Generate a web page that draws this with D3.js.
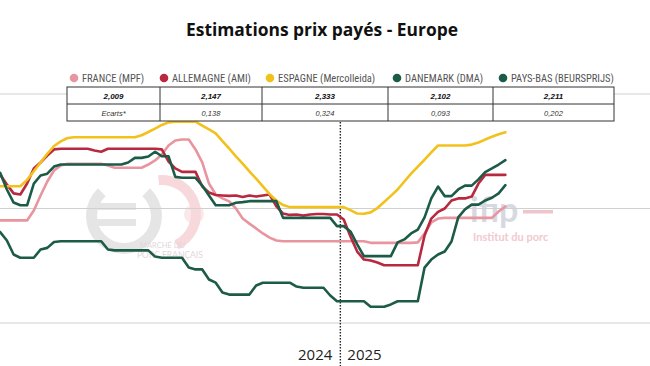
<!DOCTYPE html>
<html>
<head>
<meta charset="utf-8">
<script src="https://cdn.jsdelivr.net/npm/d3@7"></script>
<style>
  html, body { margin: 0; padding: 0; background: #fff; }
  svg { display: block; }
</style>
</head>
<body>
<svg id="chart" width="650" height="366"></svg>
<script>
// ---------------- DATA ----------------
const title = "Estimations prix payés - Europe";
const seriesNames = ["FRANCE (MPF)", "ALLEMAGNE (AMI)", "ESPAGNE (Mercolleida)", "DANEMARK (DMA)", "PAYS-BAS (BEURSPRIJS)"];
const years = ["2024", "2025"];
const weeksPerYear = [52, 25];
const yTicks = [1.5, 2.0, 2.5];

const france = [1.948,1.948,1.948,1.948,1.948,1.948,1.991,2.057,2.118,2.166,
  2.188,2.195,2.195,2.195,2.195,2.195,2.195,2.188,2.178,2.178,
  2.178,2.178,2.178,2.192,2.210,2.236,2.275,2.297,2.301,2.301,
  2.258,2.201,2.109,2.061,2.044,2.031,2.000,1.956,1.934,1.913,
  1.891,1.873,1.860,1.857,1.857,1.857,1.857,1.857,1.857,1.857,
  1.857,1.857,1.857,1.857,1.857,1.857,1.850,1.850,1.850,1.850,
  1.850,1.850,1.850,1.852,1.891,1.939,1.956,1.959,1.959,1.959,
  1.959,1.959,1.959,1.959,1.959,1.987,2.009];

const allemagne = [2.162,2.148,2.105,2.066,2.061,2.109,2.175,2.201,2.231,2.258,
  2.261,2.261,2.261,2.261,2.261,2.253,2.248,2.261,2.261,2.261,
  2.261,2.261,2.261,2.261,2.261,2.258,2.205,2.175,2.160,2.160,
  2.160,2.096,2.070,2.059,2.057,2.055,2.057,2.050,2.057,2.052,
  2.057,2.061,2.009,1.978,1.972,1.974,1.969,1.974,1.976,1.976,
  1.974,1.974,1.952,1.878,1.812,1.777,1.773,1.764,1.752,1.752,
  1.752,1.752,1.752,1.752,1.882,1.956,1.985,2.000,2.035,2.044,
  2.044,2.052,2.109,2.147,2.147,2.147,2.147];

const espagne = [2.097,2.097,2.097,2.097,2.097,2.125,2.163,2.201,2.239,2.273,
  2.293,2.308,2.311,2.311,2.311,2.311,2.311,2.311,2.311,2.311,
  2.311,2.311,2.320,2.334,2.349,2.365,2.376,2.379,2.379,2.379,
  2.379,2.362,2.345,2.328,2.294,2.262,2.228,2.196,2.162,2.130,
  2.097,2.063,2.035,2.015,2.006,2.006,2.006,2.006,2.006,2.006,
  2.006,2.006,2.006,1.993,1.978,1.977,1.983,2.002,2.028,2.055,
  2.083,2.118,2.152,2.183,2.213,2.245,2.275,2.275,2.275,2.275,
  2.275,2.279,2.288,2.301,2.313,2.324,2.333];

const danemark = [1.917,1.897,1.860,1.799,1.785,1.785,1.785,1.821,1.828,1.854,
  1.857,1.857,1.857,1.857,1.857,1.857,1.857,1.821,1.817,1.817,
  1.817,1.817,1.817,1.817,1.790,1.785,1.785,1.785,1.785,1.742,
  1.734,1.734,1.690,1.676,1.633,1.624,1.624,1.624,1.624,1.664,
  1.676,1.676,1.676,1.676,1.676,1.659,1.654,1.654,1.654,1.654,
  1.620,1.595,1.595,1.595,1.595,1.595,1.571,1.571,1.571,1.581,
  1.595,1.595,1.595,1.595,1.742,1.777,1.799,1.812,1.856,1.961,
  1.996,2.017,2.017,2.035,2.047,2.066,2.102];

const paysBas = [2.156,2.156,2.083,2.026,2.014,2.014,2.109,2.144,2.152,2.183,
  2.192,2.192,2.192,2.192,2.192,2.192,2.192,2.192,2.192,2.192,
  2.201,2.221,2.221,2.227,2.248,2.228,2.228,2.138,2.134,2.134,
  2.134,2.100,2.057,2.014,2.014,2.014,2.025,2.028,2.032,2.032,
  2.032,2.032,2.032,1.959,1.959,1.959,1.959,1.959,1.959,1.959,
  1.959,1.923,1.923,1.900,1.843,1.792,1.792,1.792,1.792,1.792,
  1.852,1.865,1.891,1.908,1.961,2.044,2.096,2.054,2.054,2.083,
  2.100,2.100,2.127,2.159,2.175,2.192,2.211];

const latestValues = ["2,009", "2,147", "2,333", "2,102", "2,211"];
const ecartsRow = ["Ecarts*", "0,138", "0,324", "0,093", "0,202"];

// ---------------- STYLE ----------------
const colors = ["#e8959f", "#b8293f", "#f3c11b", "#1c5b47", "#1c5b47"];
const allSeries = [france, allemagne, espagne, danemark, paysBas];

// build week categories
const weeks = [];
years.forEach((y, yi) => { for (let w = 1; w <= weeksPerYear[yi]; w++) weeks.push(y + "-S" + w); });

const svg = d3.select("#chart");
const W = 650, H = 366;

// scales
const x = d3.scalePoint().domain(weeks).range([-6.6, 505.4]);
const y = d3.scaleLinear().domain([1.5, 2.5]).range([323, 94]);

// ---------- watermarks ----------
const wm = svg.append("g");
// euro sign drawn as shapes
wm.append("path")
  .attr("transform", "translate(124,216)")
  .attr("d", d3.arc().innerRadius(27).outerRadius(38).startAngle(0.75).endAngle(2 * Math.PI - 0.75)())
  .attr("fill", "#e5e5e5");
wm.append("rect").attr("x", 96).attr("y", 203).attr("width", 40).attr("height", 7).attr("fill", "#e5e5e5");
wm.append("rect").attr("x", 96).attr("y", 219).attr("width", 40).attr("height", 7).attr("fill", "#e5e5e5");
// pink arc
wm.append("path")
  .attr("transform", "translate(162,214)")
  .attr("d", d3.arc().innerRadius(29).outerRadius(39).startAngle(-0.1).endAngle(2.7)())
  .attr("fill", "#f7d9dc");
wm.append("path")
  .attr("transform", "translate(194,214)")
  .attr("d", d3.arc().innerRadius(0).outerRadius(10).startAngle(0).endAngle(2 * Math.PI)())
  .attr("fill", "#f7d9dc").attr("opacity", 0.6);
wm.append("text").attr("x", 140).attr("y", 248).attr("font-family", "Lato, sans-serif")
  .attr("font-size", 7.5).attr("fill", "#e3d6da").text("MARCHÉ DU");
wm.append("text").attr("x", 137).attr("y", 258).attr("font-family", "Lato, sans-serif")
  .attr("font-size", 8.5).attr("fill", "#e3d6da").text("PORC FRANÇAIS");
wm.append("text").attr("x", 470).attr("y", 222).attr("font-family", "Lato, sans-serif").attr("font-weight", "bold")
  .attr("font-size", 34).attr("fill", "#d6d9e2").text("ifip");
wm.append("rect").attr("x", 523).attr("y", 210).attr("width", 30).attr("height", 3.5).attr("fill", "#f0c4cb");
wm.append("text").attr("x", 473).attr("y", 241).attr("font-family", "Lato, sans-serif").attr("font-weight", "bold")
  .attr("font-size", 11).attr("fill", "#f2c9cf").text("Institut du porc");

// ---------- gridlines ----------
svg.append("g").selectAll("line").data(yTicks).join("line")
  .attr("x1", 0).attr("x2", W)
  .attr("y1", d => y(d)).attr("y2", d => y(d))
  .attr("stroke", "#d0d0d0").attr("stroke-width", 1);

// ---------- year separator ----------
const lastW2024 = weeks[weeksPerYear[0] - 1], firstW2025 = weeks[weeksPerYear[0]];
const sepX = (x(lastW2024) + x(firstW2025)) / 2;
svg.append("line").attr("x1", sepX).attr("x2", sepX).attr("y1", 122).attr("y2", H)
  .attr("stroke", "#222").attr("stroke-width", 1.4).attr("stroke-dasharray", "1.5,1.5");

svg.append("text").attr("x", sepX - 8).attr("y", 360).attr("text-anchor", "end")
  .attr("font-family", "Open Sans, sans-serif").attr("font-size", 15).attr("fill", "#222").text(years[0]);
svg.append("text").attr("x", sepX + 7).attr("y", 360).attr("text-anchor", "start")
  .attr("font-family", "Open Sans, sans-serif").attr("font-size", 15).attr("fill", "#222").text(years[1]);

// ---------- lines ----------
const line = d3.line().x((d, i) => x(weeks[i])).y(d => y(d)).curve(d3.curveLinear);
svg.append("g").selectAll("path").data(allSeries).join("path")
  .attr("d", d => line(d))
  .attr("fill", "none")
  .attr("stroke", (d, i) => colors[i])
  .attr("stroke-width", 2.6)
  .attr("stroke-linejoin", "round")
  .attr("stroke-linecap", "round");

// ---------- title ----------
svg.append("text").attr("x", 322).attr("y", 36).attr("text-anchor", "middle")
  .attr("font-family", "Open Sans, sans-serif").attr("font-weight", "bold")
  .attr("font-size", 17.4).attr("fill", "#111").text(title);

// ---------- legend ----------
const legendX = [74, 164, 270, 397, 503];
const lg = svg.append("g").selectAll("g").data(seriesNames).join("g")
  .attr("transform", (d, i) => `translate(${legendX[i]},78)`);
lg.append("circle").attr("r", 4.3).attr("fill", (d, i) => colors[i]);
lg.append("text").attr("x", 8).attr("y", 3.6)
  .attr("font-family", "Liberation Sans Narrow, Roboto Condensed, Liberation Sans, sans-serif")
  .attr("font-size", 10.5).attr("fill", "#555").text(d => d);

// ---------- table ----------
const colEdges = [67, 160, 262, 388, 493, 614];
const rowEdges = [87, 104, 121];
const tbl = svg.append("g");
tbl.append("rect").attr("x", colEdges[0]).attr("y", rowEdges[0])
  .attr("width", colEdges[5] - colEdges[0]).attr("height", rowEdges[2] - rowEdges[0])
  .attr("fill", "#fff").attr("stroke", "#333").attr("stroke-width", 1);
tbl.append("line").attr("x1", colEdges[0]).attr("x2", colEdges[5]).attr("y1", rowEdges[1]).attr("y2", rowEdges[1])
  .attr("stroke", "#333");
tbl.selectAll(".vl").data(colEdges.slice(1, 5)).join("line").attr("class", "vl")
  .attr("x1", d => d).attr("x2", d => d).attr("y1", rowEdges[0]).attr("y2", rowEdges[2]).attr("stroke", "#333");
tbl.selectAll(".v1").data(latestValues).join("text").attr("class", "v1")
  .attr("x", (d, i) => (colEdges[i] + colEdges[i + 1]) / 2).attr("y", 98.5)
  .attr("text-anchor", "middle").attr("font-family", "Liberation Sans, sans-serif")
  .attr("font-size", 8).attr("font-weight", "bold").attr("font-style", "italic").attr("fill", "#111").text(d => d);
tbl.selectAll(".v2").data(ecartsRow).join("text").attr("class", "v2")
  .attr("x", (d, i) => (colEdges[i] + colEdges[i + 1]) / 2).attr("y", 115.5)
  .attr("text-anchor", "middle").attr("font-family", "Liberation Sans, sans-serif")
  .attr("font-size", 7.5).attr("font-style", "italic").attr("fill", "#333").text(d => d);
</script>
</body>
</html>
